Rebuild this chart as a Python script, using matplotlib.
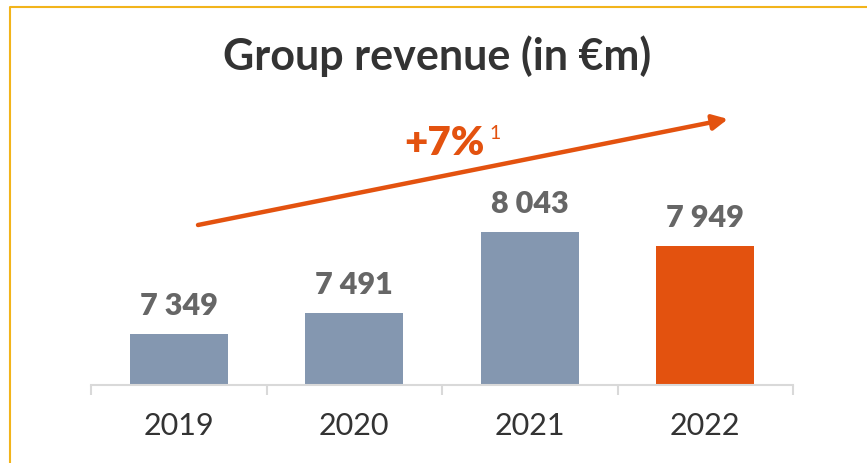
import matplotlib.pyplot as plt
from matplotlib.lines import Line2D

# Donnees
annees = ["2019", "2020", "2021", "2022"]
revenus = [7349, 7491, 8043, 7949]
etiquettes = ["7 349", "7 491", "8 043", "7 949"]
couleurs = ["#8497B0", "#8497B0", "#8497B0", "#E3520F"]

W, H = 867, 464
fig = plt.figure(figsize=(W / 100, H / 100), dpi=100)
plt.rcParams['font.family'] = ['Lato', 'DejaVu Sans']

# Zone du graphique (en pixels)
gauche, droite, base, haut = 91, 793, 386, 166
ax = fig.add_axes([gauche / W, 1 - base / H, (droite - gauche) / W, (base - haut) / H])

x = range(len(annees))
barres = ax.bar(x, revenus, width=0.56, color=couleurs)
ax.set_ylim(7000, 8500)
ax.set_xlim(-0.5, len(annees) - 0.5)

for i, (v, txt) in enumerate(zip(revenus, etiquettes)):
    ax.annotate(txt, (i, v), xytext=(0, 11), textcoords="offset points",
                ha="center", va="bottom", fontsize=22, fontweight="heavy", color="#666666")

# Axes
for s in ["top", "right", "left"]:
    ax.spines[s].set_visible(False)
ax.spines["bottom"].set_color("#D9D9D9")
ax.spines["bottom"].set_linewidth(1.5)
ax.set_yticks([])
ax.set_xticks(list(x))
ax.set_xticklabels(annees, fontsize=22, color="#333333")
ax.tick_params(axis="x", which="major", length=0, pad=19)
ax.set_xticks([i - 0.5 for i in range(len(annees) + 1)], minor=True)
ax.tick_params(axis="x", which="minor", length=7, width=1.5, color="#D9D9D9")

# Titre
fig.text(437 / W, 1 - 70 / H, "Group revenue (in €m)", ha="center", va="baseline",
         fontsize=31, fontweight="bold", color="#333333")

# Fleche de croissance
ax_f = fig.add_axes([0, 0, 1, 1], facecolor="none")
ax_f.set_xlim(0, W)
ax_f.set_ylim(H, 0)
ax_f.axis("off")
ax_f.annotate("", xy=(728, 120), xytext=(198, 226),
              arrowprops=dict(arrowstyle="-|>,head_length=0.9,head_width=0.45",
                              color="#E3520F", lw=3.2, shrinkA=0, shrinkB=0))
ax_f.text(404, 155, "+7%", ha="left", va="baseline", fontsize=29,
          fontweight="heavy", color="#E3520F")
ax_f.text(489, 139, "1", ha="left", va="baseline", fontsize=14,
          fontweight="normal", color="#E3520F")

# Cadre jaune
ax_f.add_line(Line2D([10, 10, W], [H, 8, 8], color="#F2B41B", lw=1.5))

plt.savefig("out.png", dpi=100)
